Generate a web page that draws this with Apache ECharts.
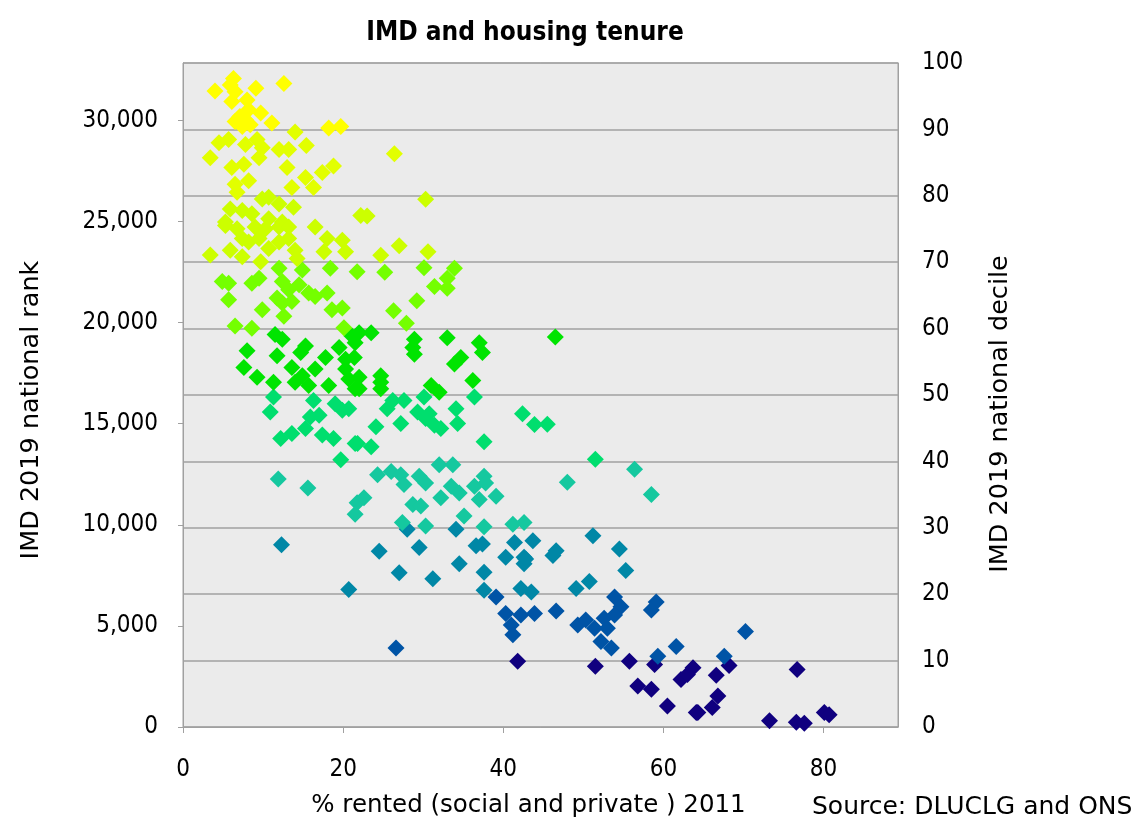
<!DOCTYPE html>
<html>
<head>
<meta charset="utf-8">
<script src="https://cdn.jsdelivr.net/npm/echarts@6/dist/echarts.min.js"></script>
<style>
html,body{margin:0;padding:0;background:#fff;}
#c{width:1141px;height:823px;}
</style>
</head>
<body>
<div id="c"></div>
<script>
// [% rented 2011, IMD 2019 national rank] grouped by IMD national decile
const decile10 = [[6.3,32080],[5.9,31752],[6.5,31424],[4.0,31458],[9.1,31590],[12.6,31835],[6.1,30934],[8.0,31017],[8.2,30527],[9.7,30365],[6.5,29954],[7.8,30037],[8.4,29792],[11.1,29875],[18.2,29630],[19.7,29709],[7.1,30199],[7.4,29709]];
const decile9 = [[14.0,29425],[4.5,28895],[5.7,29057],[7.8,28812],[9.25,29057],[9.9,28650],[9.5,28160],[3.4,28160],[12.0,28567],[13.2,28567],[15.4,28763],[13.0,27670],[6.1,27670],[7.6,27832],[8.2,27014],[6.5,26852],[6.75,26445],[13.6,26690],[15.3,27180],[16.3,26690],[17.4,27425],[18.8,27750],[26.4,28356]];
const decile8 = [[9.9,26117],[10.7,26200],[12.0,25872],[13.8,25710],[5.9,25627],[7.4,25545],[8.6,25382],[10.7,25137],[12.4,24975],[16.5,24730],[5.3,24975],[22.2,25300],[5.3,24810],[6.75,24647],[9.0,24730],[10.3,24647],[12.0,24730],[13.2,24730],[18.0,24157],[19.9,24075],[20.3,23505],[17.6,23505],[13.2,24157],[14.0,23586],[14.25,23177],[10.7,23667],[9.7,23015],[7.4,23260],[5.9,23586],[3.4,23341],[8.2,23995],[9.5,24157],[7.4,24157],[12.0,23995],[23.0,25270],[30.3,26100],[27.0,23800],[24.7,23340],[30.6,23505]];
const decile7 = [[12.0,22687],[14.9,22605],[18.4,22687],[21.75,22523],[4.9,22033],[5.7,21952],[8.6,21952],[9.5,22197],[12.4,22033],[13.2,21625],[14.5,21870],[15.7,21462],[16.5,21298],[18.0,21462],[5.7,21135],[9.9,20644],[11.75,21217],[12.4,20972],[13.6,21053],[12.6,20321],[18.6,20644],[19.9,20727],[6.5,19830],[8.6,19720],[20.1,19747],[25.2,22491],[30.1,22720],[33.9,22687],[33.0,22197],[31.4,21788],[33.0,21707],[29.2,21085],[26.3,20595],[27.9,19977]];
const decile6 = [[11.5,19420],[12.4,19175],[8.0,18605],[15.3,18850],[14.7,18522],[11.75,18360],[19.5,18767],[17.8,18277],[21.1,19340],[21.5,19012],[7.6,17787],[9.25,17297],[11.3,17052],[13.6,17787],[14.9,17380],[16.5,17705],[20.3,18195],[20.3,17705],[14.0,17052],[18.2,16889],[20.7,17215],[21.5,16725],[15.7,16889],[22.0,19502],[23.5,19502],[28.9,19175],[28.7,18767],[28.9,18440],[33.0,19257],[37.0,19012],[37.4,18522],[34.7,18277],[33.9,17950],[36.2,17135],[21.4,18277],[22.0,17297],[22.0,16725],[24.7,17380],[24.7,17052],[24.7,16725],[31.0,16889],[32.0,16562],[46.5,19290]];
const decile5 = [[25.5,15744],[26.2,16155],[27.6,16155],[30.1,16317],[29.3,15582],[30.3,15254],[30.75,15500],[32.2,14764],[31.4,14930],[34.1,15744],[34.3,15009],[36.4,16317],[27.2,15009],[24.1,14847],[23.5,13867],[21.8,14029],[37.6,14112],[42.4,15500],[43.9,14960],[45.5,14980],[51.5,13245],[11.3,16317],[10.9,15582],[12.2,14274],[13.6,14519],[15.3,14764],[15.9,15337],[17.0,15420],[17.4,14440],[18.8,14274],[19.0,15990],[19.9,15665],[20.7,15744],[21.5,14029],[19.7,13215],[16.3,16155]];
const decile4 = [[11.9,12265],[15.6,11824],[21.75,11089],[21.5,10520],[24.3,12480],[26.0,12642],[27.2,12480],[27.6,11990],[29.5,12397],[30.3,12070],[32.0,12970],[33.7,12970],[33.5,11907],[34.5,11580],[32.2,11334],[36.4,11907],[37.6,12397],[37.8,12070],[37.0,11253],[39.1,11417],[22.6,11334],[28.7,11008],[29.7,10930],[35.1,10437],[27.4,10110],[30.3,9947],[37.6,9900],[41.2,10030],[42.6,10110],[48.0,12103],[56.4,12755],[58.5,11500]];
const decile3 = [[12.3,9016],[28.0,9785],[29.5,8884],[24.5,8688],[27.0,7630],[31.2,7330],[34.1,9785],[34.5,8070],[36.6,8967],[37.4,9050],[37.6,7659],[40.3,8394],[41.4,9129],[42.6,8394],[42.6,8070],[43.7,9212],[37.6,6762],[20.7,6796],[42.2,6845],[43.5,6680],[42.8,8315],[46.2,8477],[46.6,8722],[51.2,9457],[54.5,8805],[55.3,7742],[49.1,6845],[50.75,7203]];
const decile2 = [[39.1,6434],[40.3,5620],[42.2,5537],[41.0,5047],[41.2,4557],[26.6,3905],[43.9,5620],[46.6,5733],[49.3,5047],[50.3,5292],[51.4,4885],[52.6,5375],[53.9,6434],[54.7,5944],[53.0,4885],[52.2,4229],[53.5,3905],[53.9,5537],[59.1,6189],[58.5,5782],[61.6,3984],[59.3,3494],[70.25,4719],[67.6,3494]];
const decile1 = [[41.8,3249],[51.5,3004],[55.75,3249],[58.9,3087],[56.8,2024],[58.5,1862],[60.5,1044],[64.1,720],[62.2,2352],[63.7,2925],[63.0,2597],[68.2,3038],[66.6,2563],[76.7,2842],[66.8,1534],[66.1,965],[64.3,720],[73.25,309],[76.6,230],[77.6,181],[80.1,720],[80.7,603]];

const decileGroups = [decile1, decile2, decile3, decile4, decile5, decile6, decile7, decile8, decile9, decile10];
const decileColors = ['#10007f','#0054a6','#0087a6','#15c89f','#00de6e','#00e400','#74ff00','#ccff00','#e2ff00','#ffff00'];
const rankTicks = [0, 5000, 10000, 15000, 20000, 25000, 30000];
const decileTicks = [0,10,20,30,40,50,60,70,80,90,100];
const xTicks = [0,20,40,60,80];

const FONT = '"DejaVu Sans Condensed", "DejaVu Sans", sans-serif';
const NAMEFONT = '"DejaVu Sans", sans-serif';
const chart = echarts.init(document.getElementById('c'), null, {renderer:'canvas'});

const series = decileGroups.map((d, i) => ({
  type: 'scatter',
  yAxisIndex: 0,
  symbol: 'diamond',
  symbolSize: 17,
  itemStyle: {color: decileColors[i], opacity: 1},
  emphasis: {disabled: true},
  data: d
}));

chart.setOption({
  animation: false,
  backgroundColor: '#ffffff',
  textStyle: {fontFamily: FONT},
  title: {
    text: 'IMD and housing tenure',
    left: 520, top: 15, textAlign: 'center',
    textStyle: {fontFamily: FONT, fontWeight: 'bold', fontSize: 26, color: '#000'}
  },
  grid: {
    left: 183, right: 243, top: 63, bottom: 90,
    show: true, backgroundColor: '#ebebeb', borderColor: '#a0a0a0', borderWidth: 1
  },
  xAxis: {
    type: 'value', min: 0, max: 89.3, interval: 20,
    name: '% rented (social and private ) 2011',
    nameLocation: 'middle', nameGap: 66,
    nameTextStyle: {fontFamily: NAMEFONT, fontSize: 24.5, color: '#000', padding: [0, 24, 0, 0]},
    axisLine: {show: true, lineStyle: {color: '#a0a0a0', width: 1}},
    axisTick: {show: true, length: 6, lineStyle: {color: '#a0a0a0'}, customValues: xTicks},
    axisLabel: {fontFamily: FONT, fontSize: 24, color: '#000', margin: 31, customValues: xTicks,
      formatter: v => (xTicks.indexOf(v) >= 0 ? String(v) : '')},
    splitLine: {show: false}
  },
  yAxis: [{
    type: 'value', min: 0, max: 32844, interval: 5000, position: 'left',
    name: 'IMD 2019 national rank', nameLocation: 'middle', nameGap: 139, nameRotate: 90,
    nameTextStyle: {fontFamily: NAMEFONT, fontSize: 25.5, color: '#000', padding: [0, 30, 0, 0]},
    axisLine: {show: true, lineStyle: {color: '#a0a0a0', width: 1}},
    axisTick: {show: true, length: 5, lineStyle: {color: '#a0a0a0'}, customValues: rankTicks},
    axisLabel: {fontFamily: FONT, fontSize: 24, color: '#000', margin: 25, customValues: rankTicks,
      formatter: v => (rankTicks.indexOf(v) >= 0 ? v.toLocaleString('en-GB') : '')},
    splitLine: {show: false}
  }, {
    type: 'value', min: 0, max: 100, interval: 10, position: 'right',
    name: 'IMD 2019 national decile', nameLocation: 'middle', nameGap: 89, nameRotate: 90,
    nameTextStyle: {fontFamily: NAMEFONT, fontSize: 25.5, color: '#000', padding: [0, 38, 0, 0]},
    axisLine: {show: true, lineStyle: {color: '#a0a0a0', width: 1}},
    axisTick: {show: false},
    axisLabel: {fontFamily: FONT, fontSize: 24, color: '#000', margin: 24,
      formatter: v => (decileTicks.indexOf(v) >= 0 ? String(v) : '')},
    splitLine: {show: true, lineStyle: {color: '#a0a0a0', width: 1.5}}
  }],
  graphic: [{
    type: 'text', left: 812, top: 795,
    style: {text: 'Source: DLUCLG and ONS', font: '25px ' + NAMEFONT, fill: '#000'}
  }],
  series: series
});
</script>
</body>
</html>
